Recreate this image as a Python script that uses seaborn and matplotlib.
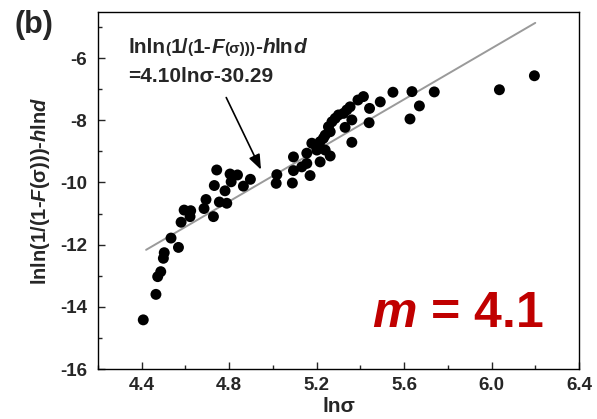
import numpy as np
import pandas as pd
import matplotlib
matplotlib.use("Agg")
import matplotlib.pyplot as plt
from matplotlib.ticker import MultipleLocator
import seaborn as sns

# Measured points: ln(sigma) vs lnln(1/(1-F(sigma))) - h ln d
ln_sigma = [4.407, 4.465, 4.473, 4.487, 4.499, 4.503, 4.568, 4.534, 4.580, 4.594,
            4.624, 4.621, 4.685, 4.694, 4.728, 4.755, 4.789, 4.781, 4.732, 4.743,
            4.804, 4.838, 4.809, 4.865, 4.897, 5.018, 5.015, 5.094, 5.089, 5.094,
            5.132, 5.155, 5.170, 5.155, 5.178, 5.198, 5.201, 5.216, 5.216, 5.231,
            5.239, 5.262, 5.254, 5.270, 5.285, 5.300, 5.323, 5.338, 5.353, 5.389,
            5.414, 5.330, 5.361, 5.361, 5.442, 5.440, 5.491, 5.549, 5.636, 5.627,
            5.670, 5.738, 6.036, 6.196, 5.239, 5.262]
weibull_y = [-14.42, -13.60, -13.03, -12.87, -12.44, -12.26, -12.09, -11.79, -11.28, -10.89,
             -10.91, -11.10, -10.84, -10.55, -11.10, -10.63, -10.67, -10.27, -10.10, -9.60,
             -9.73, -9.76, -9.98, -10.12, -9.90, -9.75, -10.03, -9.18, -10.02, -9.62,
             -9.50, -9.39, -9.78, -9.06, -8.74, -8.83, -8.96, -8.69, -9.34, -8.58,
             -8.48, -8.37, -8.21, -8.05, -7.94, -7.83, -7.78, -7.67, -7.57, -7.35,
             -7.24, -8.23, -7.99, -8.71, -7.62, -8.08, -7.41, -7.10, -7.08, -7.96,
             -7.54, -7.09, -7.02, -6.57, -8.96, -9.15]

# Linear fit  y = 4.10 ln(sigma) - 30.29
fit_slope = 4.10
fit_intercept = -30.29
fit_range = [4.42, 6.20]

x_ticks = [4.4, 4.8, 5.2, 5.6, 6.0, 6.4]
y_ticks = [-16, -14, -12, -10, -8, -6]

sns.set_style("ticks")
plt.rcParams["font.family"] = ["Liberation Sans", "DejaVu Sans"]
plt.rcParams["font.weight"] = "bold"
plt.rcParams["axes.labelweight"] = "bold"
plt.rcParams["mathtext.fontset"] = "custom"
plt.rcParams["mathtext.rm"] = "Liberation Sans:bold"
plt.rcParams["mathtext.bf"] = "Liberation Sans:bold"
plt.rcParams["mathtext.it"] = "Liberation Sans:italic:bold"

fig = plt.figure(figsize=(5.97, 4.19), dpi=100)
ax = fig.add_axes([98 / 597, 50 / 419, 481 / 597, 357 / 419])

df = pd.DataFrame({"x": ln_sigma, "y": weibull_y})
sns.scatterplot(data=df, x="x", y="y", ax=ax, color="black", s=62,
                edgecolor="none", zorder=3)

fit_x = np.array(fit_range)
fit_df = pd.DataFrame({"x": fit_x, "y": fit_slope * fit_x + fit_intercept})
sns.lineplot(data=fit_df, x="x", y="y", ax=ax, color="#9a9a9a", linewidth=1.4, zorder=2)

ax.set_xlim(4.2, 6.4)
ax.set_ylim(-16, -4.52)
ax.set_xticks(x_ticks)
ax.set_xticklabels([f"{v:.1f}" for v in x_ticks])
ax.set_yticks(y_ticks)
ax.set_yticklabels([f"{v:d}" for v in y_ticks])
ax.xaxis.set_minor_locator(MultipleLocator(0.2))
ax.yaxis.set_minor_locator(MultipleLocator(1))
ax.tick_params(which="major", direction="in", length=5, width=1, labelsize=13.5, pad=6)
ax.tick_params(which="minor", direction="in", length=3, width=1)
ax.tick_params(axis="y", which="major", pad=8)
for sp in ax.spines.values():
    sp.set_visible(True)
    sp.set_color("black")
    sp.set_linewidth(1.0)

ax.set_xlabel("ln\u03c3", fontsize=15, fontweight="bold", labelpad=2)
ax.set_ylabel("lnln(1/(1-$\\mathit{F}$(\u03c3)))-$\\mathit{h}$ln$\\mathit{d}$",
              fontsize=14.5, fontweight="bold", labelpad=6)

# Equation annotation, first line with reduced-size brackets
renderer = fig.canvas.get_renderer()
pieces = [("lnln", 15, "normal"), ("(", 11, "normal"), ("1/", 15, "normal"),
          ("(", 11, "normal"), ("1-", 15, "normal"), ("F", 15, "italic"),
          ("(\u03c3)))", 11, "normal"), ("-", 15, "normal"), ("h", 15, "italic"),
          ("ln", 15, "normal"), ("d", 15, "italic")]
px, py = 128.0, 419 - 53.0
for txt, size, style in pieces:
    t = fig.text(px / 597, py / 419, txt, fontsize=size, fontstyle=style,
                 fontweight="bold", va="baseline", ha="left")
    bb = t.get_window_extent(renderer=renderer)
    px += bb.width
fig.text(128 / 597, (419 - 82) / 419, "=4.10ln\u03c3-30.29", fontsize=15,
         fontweight="bold", va="baseline", ha="left")

ax.annotate("", xy=(4.951, -9.67), xytext=(4.781, -7.19),
            arrowprops=dict(arrowstyle="-|>,head_length=0.9,head_width=0.35",
                            color="black", lw=1.2))

fig.text(372 / 597, (419 - 327) / 419, "$\\mathit{m}$ = 4.1", fontsize=36,
         color="#c00000", fontweight="bold", va="baseline", ha="left")
fig.text(15 / 597, (419 - 33) / 419, "(b)", fontsize=22, fontweight="bold",
         va="baseline", ha="left")

fig.savefig("out.png", dpi=100, facecolor="white")
